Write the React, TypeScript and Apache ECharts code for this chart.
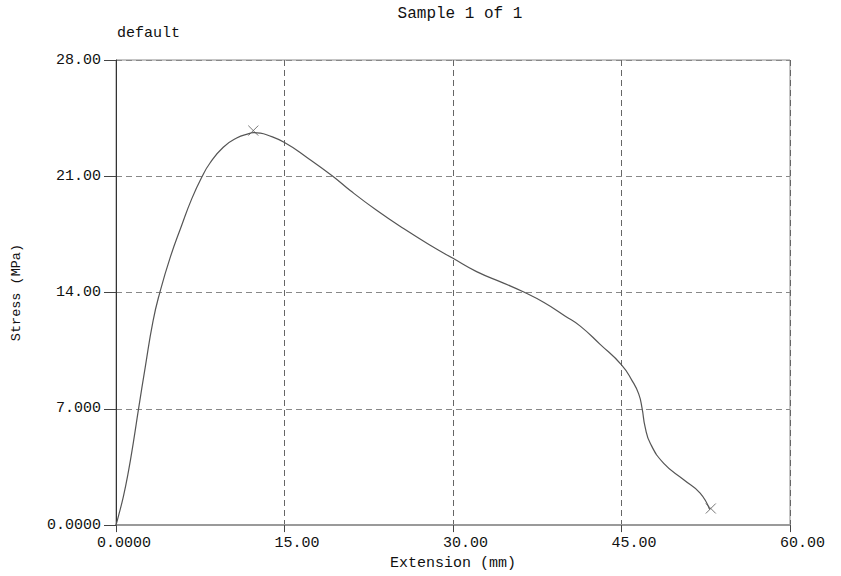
import React, { useEffect, useRef } from "react";
import * as echarts from "echarts";

const extension = [0, 0.2, 0.65, 1.1, 1.55, 2.0, 2.6, 3.3, 3.9, 4.8, 5.85, 6.74, 7.63, 8.37, 9.55, 10.74, 11.9, 12.22, 12.83, 13.4, 15.0, 17.0, 19.3, 20.85, 23.2, 25.6, 27.97, 30.0, 32.1, 34.5, 36.3, 38.1, 40.0, 41.33, 43.1, 45.0, 45.94, 46.53, 46.83, 47.1, 47.57, 48.76, 50.54, 52.0, 52.85];
const stress = [0, 0.5, 1.7, 3.2, 5.0, 6.97, 9.5, 12.3, 14.0, 16.06, 18.05, 19.64, 20.94, 21.8, 22.75, 23.3, 23.58, 23.63, 23.6, 23.5, 23.03, 22.13, 21.0, 20.14, 18.95, 17.85, 16.85, 16.06, 15.26, 14.57, 14.03, 13.4, 12.58, 11.98, 10.88, 9.65, 8.7, 7.9, 7.04, 5.91, 4.91, 3.72, 2.73, 1.93, 0.94];

const markerExtension = [12.22, 52.95];
const markerStress = [23.75, 1.0];

const xTickValues = [0, 15, 30, 45, 60];
const xTickLabels = ["0.0000", "15.00", "30.00", "45.00", "60.00"];
const yTickValues = [0, 7, 14, 21, 28];
const yTickLabels = ["0.0000", "7.000", "14.00", "21.00", "28.00"];

const chartTitle = "Sample 1 of 1";
const subTitle = "default";
const xName = "Extension (mm)";
const yName = "Stress (MPa)";

const FONT = "'Liberation Mono', 'DejaVu Sans Mono', monospace";

export default function App() {
  const ref = useRef<HTMLDivElement>(null);
  useEffect(() => {
    if (!ref.current) return;
    const chart = echarts.init(ref.current, undefined, { renderer: "svg" });
    const lookup = (vals: number[], labels: string[], v: number) => {
      const i = vals.findIndex((t) => Math.abs(t - v) < 1e-6);
      return i >= 0 ? labels[i] : "";
    };
    chart.setOption({
      animation: false,
      backgroundColor: "#ffffff",
      title: [
        {
          text: chartTitle,
          left: 460,
          top: 6,
          textAlign: "center",
          padding: 0,
          textStyle: { fontFamily: FONT, fontSize: 16, fontWeight: "normal", color: "#111" },
        },
        {
          text: subTitle,
          left: 117,
          top: 26,
          padding: 0,
          textStyle: { fontFamily: FONT, fontSize: 15, fontWeight: "normal", color: "#111" },
        },
      ],
      grid: {
        left: 116,
        right: 51,
        top: 60,
        bottom: 47,
        show: true,
        borderColor: "#8a8a8a",
        borderWidth: 1,
        backgroundColor: "transparent",
      },
      xAxis: {
        type: "value",
        min: 0,
        max: 60,
        interval: 15,
        name: xName,
        nameLocation: "middle",
        nameGap: 30,
        nameTextStyle: { fontFamily: FONT, fontSize: 15, color: "#111" },
        axisLine: { show: true, onZero: false, lineStyle: { color: "#9a9a9a", width: 2 } },
        axisTick: { show: true, length: 7, lineStyle: { color: "#444" } },
        axisLabel: {
          margin: 11,
          align: "center",
          formatter: (v: number) => "{a|" + lookup(xTickValues, xTickLabels, v) + "}",
          rich: {
            a: { width: 70, align: "right", fontFamily: FONT, fontSize: 15, color: "#111", lineHeight: 15 },
          },
        },
        splitLine: { show: true, lineStyle: { color: "#666", type: [6, 4], width: 1 } },
      },
      yAxis: {
        type: "value",
        min: 0,
        max: 28,
        interval: 7,
        name: yName,
        nameLocation: "middle",
        nameGap: 93,
        nameTextStyle: { fontFamily: FONT, fontSize: 13.5, color: "#111" },
        axisLine: { show: true, onZero: false, lineStyle: { color: "#333", width: 1 } },
        axisTick: { show: true, length: 12, lineStyle: { color: "#444" } },
        axisLabel: {
          margin: 15,
          fontFamily: FONT,
          fontSize: 15,
          color: "#111",
          formatter: (v: number) => lookup(yTickValues, yTickLabels, v),
        },
        splitLine: { show: true, lineStyle: { color: "#888", type: [6, 4], width: 1 } },
      },
      series: [
        {
          type: "line",
          data: extension.map((x, i) => [x, stress[i]]),
          smooth: 0.5,
          showSymbol: false,
          lineStyle: { color: "#555", width: 1.2 },
          z: 3,
        },
        {
          type: "scatter",
          data: markerExtension.map((x, i) => [x, markerStress[i]]),
          symbol: "path://M0,0L10,10M10,0L0,10",
          symbolSize: 10,
          itemStyle: { color: "none", borderColor: "#555", borderWidth: 1 },
          z: 4,
        },
      ],
    });
    return () => chart.dispose();
  }, []);
  return (
    <div
      ref={ref}
      style={{ position: "fixed", left: 0, top: 0, width: 841, height: 576 }}
    />
  );
}
